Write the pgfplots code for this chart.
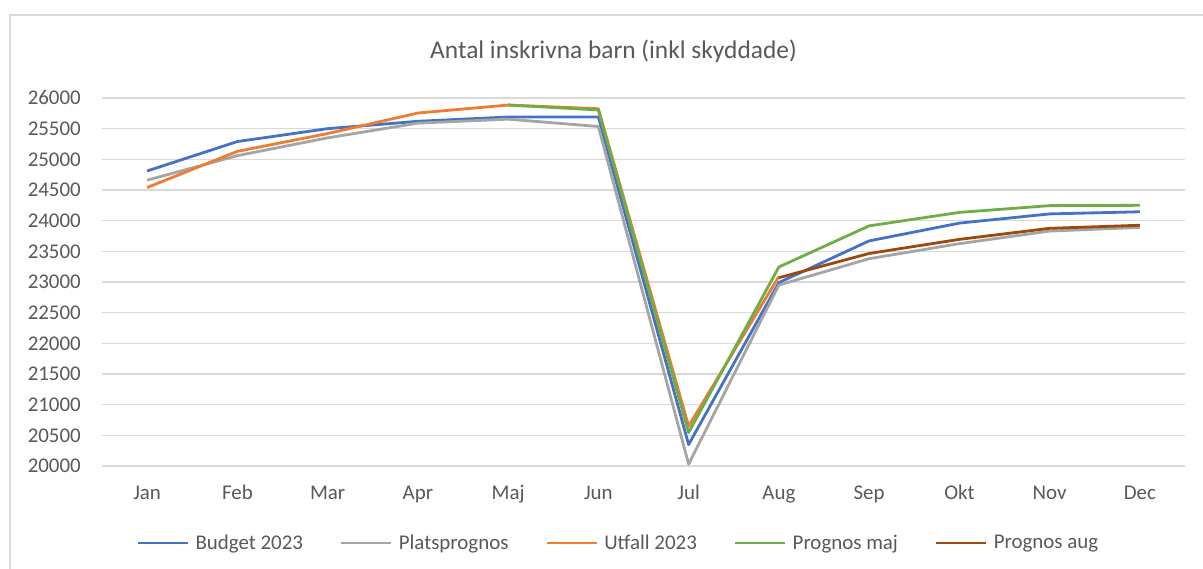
\documentclass[border=0pt]{standalone}
\usepackage{fontspec}
\setmainfont{Carlito}
\usepackage{pgfplots}
\pgfplotsset{compat=1.18}
\definecolor{cblue}{HTML}{4472C4}
\definecolor{cgray}{HTML}{A5A5A5}
\definecolor{corange}{HTML}{ED7D31}
\definecolor{cgreen}{HTML}{70AD47}
\definecolor{cbrown}{HTML}{9E480E}
\definecolor{txt}{HTML}{595959}
\definecolor{gridc}{HTML}{D9D9D9}
\begin{document}
\begin{tikzpicture}
\useasboundingbox (0bp,0bp) rectangle (1203bp,569bp);
\fill[white] (0bp,0bp) rectangle (1203bp,569bp);
\draw[gridc, line width=1.2bp] (10bp,-10bp) rectangle (1215bp,554bp);
\begin{axis}[
  at={(102bp,103bp)}, anchor=south west,
  scale only axis, width=1083bp, height=368bp,
  xmin=-0.5, xmax=11.5, ymin=20000, ymax=26000,
  axis line style={draw=none},
  xtick={0,...,11},
  xticklabels={Jan,Feb,Mar,Apr,Maj,Jun,Jul,Aug,Sep,Okt,Nov,Dec},
  ytick={20000,20500,...,26000},
  major tick length=0pt,
  ymajorgrids,
  grid style={gridc, line width=1.3bp},
  scaled ticks=false,
  /pgf/number format/.cd, set thousands separator={}, assume math mode=true,
  /pgfplots/.cd,
  tick label style={font=\fontsize{21}{25}\selectfont, text=txt, inner sep=0pt},
  yticklabel style={anchor=east, xshift=-21bp},
  xticklabel style={anchor=base, yshift=-34bp},
  legend columns=5,
  legend style={draw=none, fill=none, font=\fontsize{21}{25}\selectfont, text=txt,
    at={(0.476,-0.209)}, anchor=center,
    nodes={inner sep=0pt, anchor=west},
    /tikz/every odd column/.style={column sep=6bp},
    /tikz/every even column/.style={column sep=37bp}},
  legend image code/.code={\draw[#1, line width=2.8bp] (0bp,0bp) -- (50bp,0bp);},
  every axis plot/.append style={line width=2.8bp, line join=round},
]
\addplot[cblue] coordinates {(0,24810) (1,25290) (2,25500) (3,25620) (4,25690) (5,25690) (6,20350) (7,22990) (8,23670) (9,23960) (10,24110) (11,24145)};
\addlegendentry{Budget 2023}
\addplot[cgray] coordinates {(0,24660) (1,25060) (2,25350) (3,25590) (4,25655) (5,25535) (6,20030) (7,22950) (8,23380) (9,23625) (10,23830) (11,23890)};
\addlegendentry{Platsprognos}
\addplot[corange] coordinates {(0,24540) (1,25130) (2,25420) (3,25755) (4,25885) (5,25825) (6,20650) (7,23090)};
\addlegendentry{Utfall 2023}
\addplot[cgreen] coordinates {(4,25885) (5,25805) (6,20545) (7,23245) (8,23915) (9,24135) (10,24245) (11,24250)};
\addlegendentry{Prognos maj}
\addplot[cbrown] coordinates {(7,23070) (8,23465) (9,23695) (10,23875) (11,23925)};
\addlegendentry{Prognos aug}
\end{axis}
\node[font=\fontsize{25.5}{30}\selectfont, text=txt] at (613.5bp,518bp) {Antal inskrivna barn (inkl skyddade)};
\end{tikzpicture}
\end{document}
